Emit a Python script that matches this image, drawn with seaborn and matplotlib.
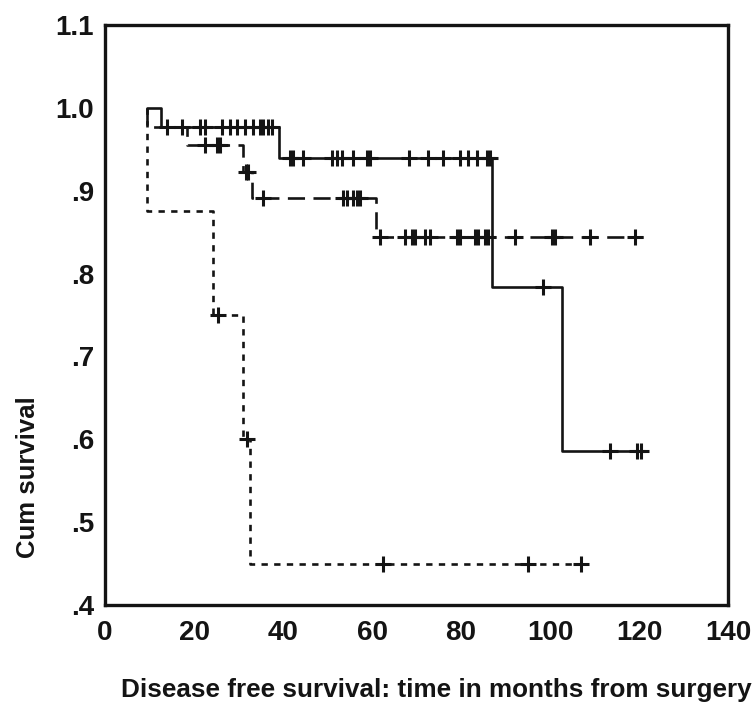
import numpy as np
import pandas as pd
import matplotlib
matplotlib.use("Agg")
import matplotlib.pyplot as plt
import seaborn as sns

# ---- data (months, cumulative survival) ----
solid_t = [9.4, 12.6, 39.0, 87.0, 102.7, 121.0]
solid_s = [1.000, 0.977, 0.940, 0.784, 0.586, 0.586]
solid_cens = [13.9, 17.3, 21.3, 22.5, 26.3, 28.1, 29.7, 31.5, 33.3, 34.8, 35.5, 36.6, 37.5,
              41.6, 42.2, 44.5, 51.0, 52.1, 53.3, 55.7, 58.9, 59.6, 68.3, 72.6, 76.0,
              79.8, 81.6, 83.6, 85.8, 86.5, 98.4, 113.5, 119.5, 120.5]

dashed_t = [9.4, 9.4, 18.4, 31.0, 33.0, 61.0, 121.0]
dashed_s = [1.000, 0.977, 0.955, 0.923, 0.891, 0.844, 0.844]
dashed_cens = [22.5, 25.2, 25.8, 31.6, 32.2, 35.5, 53.5, 54.4, 55.7, 56.6, 57.3,
               61.8, 67.4, 69.0, 69.7, 71.9, 73.0, 79.0, 79.8, 83.1, 83.8, 85.4, 86.0,
               92.1, 100.4, 101.1, 109.0, 119.1]

dotted_t = [9.4, 9.4, 24.3, 31.0, 32.5, 107.0]
dotted_s = [1.000, 0.875, 0.750, 0.600, 0.450, 0.450]
dotted_cens = [25.4, 32.0, 62.5, 95.0, 107.0]

group_names = ["A", "B", "C"]

x_ticks = [0, 20, 40, 60, 80, 100, 120, 140]
y_ticks = [0.4, 0.5, 0.6, 0.7, 0.8, 0.9, 1.0, 1.1]
y_tick_labels = [".4", ".5", ".6", ".7", ".8", ".9", "1.0", "1.1"]

x_label = "Disease free survival: time in months from surgery"
y_label = "Cum survival"

# ---- build tables ----
curves = pd.concat([
    pd.DataFrame({"t": solid_t, "s": solid_s, "g": "A"}),
    pd.DataFrame({"t": dashed_t, "s": dashed_s, "g": "B"}),
    pd.DataFrame({"t": dotted_t, "s": dotted_s, "g": "C"}),
], ignore_index=True)


def step_value(ts, ss, c):
    idx = np.searchsorted(np.array(ts), c, side="right") - 1
    return np.array(ss)[idx]


cens = pd.concat([
    pd.DataFrame({"t": solid_cens, "s": step_value(solid_t, solid_s, solid_cens), "g": "A"}),
    pd.DataFrame({"t": dashed_cens, "s": step_value(dashed_t, dashed_s, dashed_cens), "g": "B"}),
    pd.DataFrame({"t": dotted_cens, "s": step_value(dotted_t, dotted_s, dotted_cens), "g": "C"}),
], ignore_index=True)

sns.set_theme(style="white")
plt.rcParams["font.family"] = ["Liberation Sans", "DejaVu Sans"]
ink = "#141414"

fig = plt.figure(figsize=(7.53, 7.21), dpi=100)
ax = fig.add_axes([105 / 753, 1 - 605 / 721, 623 / 753, 580 / 721])

sns.lineplot(data=curves, x="t", y="s", style="g", units="g", estimator=None, sort=False,
             dashes={"A": "", "B": (6.5, 3.2), "C": (2.4, 2.4)}, color=ink,
             linewidth=1.9, drawstyle="steps-post", legend=False, ax=ax)

sns.scatterplot(data=cens, x="t", y="s", marker="+", s=120, color=ink,
                linewidth=2.2, legend=False, ax=ax)

ax.set_xlim(0, 140)
ax.set_ylim(0.4, 1.1)
ax.set_xticks(x_ticks)
ax.set_xticklabels([str(v) for v in x_ticks])
ax.set_yticks(y_ticks)
ax.set_yticklabels(y_tick_labels)
ax.tick_params(axis="both", direction="inout", length=6, width=3, colors=ink,
               labelsize=20, pad=5)
ax.tick_params(axis="x", pad=8)
for lab in ax.get_xticklabels() + ax.get_yticklabels():
    lab.set_fontweight("bold")
for sp in ax.spines.values():
    sp.set_visible(True)
    sp.set_color(ink)
    sp.set_linewidth(2.4)

ax.set_xlabel("")
ax.set_ylabel(y_label, fontsize=18.5, fontweight="bold", color=ink)
ax.yaxis.set_label_coords(-0.105, 0.22)

fig.text(121 / 753, 1 - 690 / 721, x_label, fontsize=18.8, fontweight="bold",
         color=ink, ha="left", va="center")

fig.savefig("out.png", dpi=100)
